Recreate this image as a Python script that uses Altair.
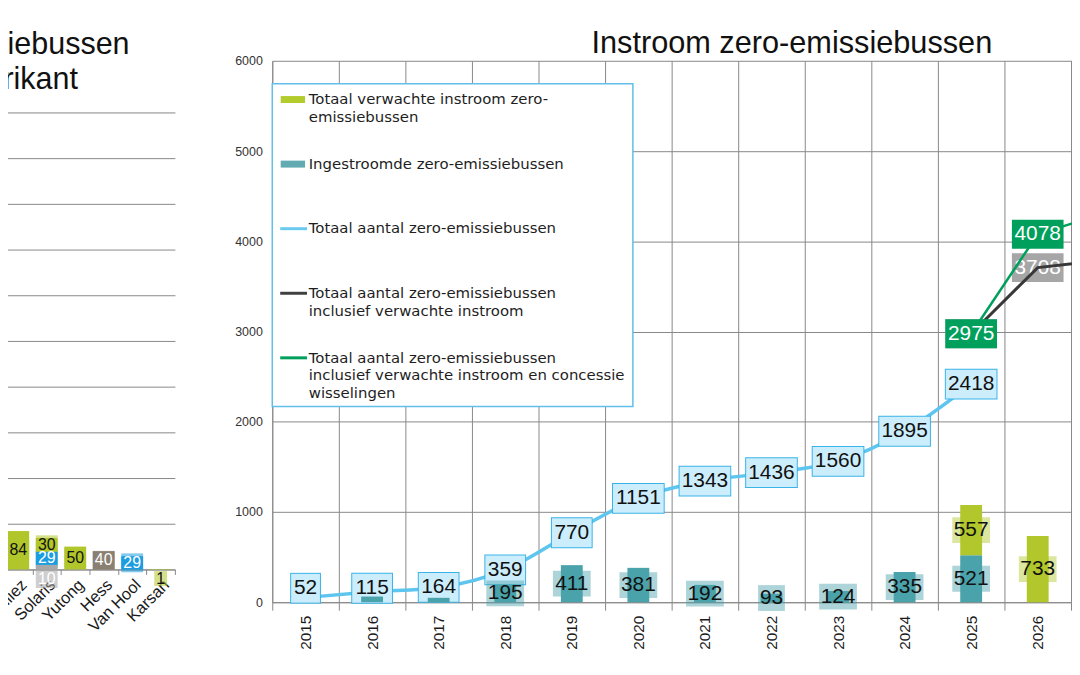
import altair as alt
import pandas as pd

# ------------------------------------------------------------------ data
# right chart: "Instroom zero-emissiebussen"
years_axis = [2015, 2016, 2017, 2018, 2019, 2020, 2021, 2022, 2023, 2024, 2025, 2026, 2027]
years_labelled = [2015, 2016, 2017, 2018, 2019, 2020, 2021, 2022, 2023, 2024, 2025, 2026]
total_years = [2015, 2016, 2017, 2018, 2019, 2020, 2021, 2022, 2023, 2024, 2025]
total_zeb = [52, 115, 164, 359, 770, 1151, 1343, 1436, 1560, 1895, 2418]
inflow_years = [2016, 2017, 2018, 2019, 2020, 2021, 2022, 2023, 2024, 2025]
inflow_zeb = [63, 49, 195, 411, 381, 192, 93, 124, 335, 521]
expected_years = [2025, 2026]
expected_inflow = [557, 733]
proj_years = [2025, 2026, 2027]
proj_incl_inflow = [2975, 3708, 3790]
proj_incl_concession = [2975, 4078, 4310]
right_y_ticks = [0, 1000, 2000, 3000, 4000, 5000, 6000]
first_labelled_inflow_year = 2018

# left chart (cropped): zero-emissiebussen per fabrikant
mfr_order = ["BYD", "Heuliez", "Solaris", "Yutong", "Hess", "Van Hool", "Karsan"]
seg_mfr = ["BYD", "Heuliez", "Solaris", "Solaris", "Solaris", "Yutong", "Hess", "Van Hool", "Karsan"]
seg_kind = ["batterij", "batterij", "overig", "waterstof", "batterij", "batterij", "trolley", "waterstof", "batterij"]
seg_value = [131, 84, 10, 29, 30, 50, 40, 29, 1]
left_y_ticks = [0, 100, 200, 300, 400, 500, 600, 700, 800, 900, 1000]

legend_texts = [
    ["Totaal verwachte instroom zero-", "emissiebussen"],
    ["Ingestroomde zero-emissiebussen"],
    ["Totaal aantal zero-emissiebussen"],
    ["Totaal aantal zero-emissiebussen", "inclusief verwachte instroom"],
    ["Totaal aantal zero-emissiebussen", "inclusief verwachte instroom en  concessie", "wisselingen"],
]
legend_kinds = ["bar", "bar", "line", "line", "line"]

# ------------------------------------------------------------------ style
TEAL = "#4aa2aa"
GREEN = "#b2c72b"
BLUE = "#5ec5ef"
BLUE_FILL = "#ccedfc"
BLUE_EDGE = "#3ab3e8"
DARK = "#383838"
EMERALD = "#00a05c"
GREY_BOX = "#a6a6a6"
GRID = "#888888"
LEG_EDGE = "#62bfe9"
NUMFONT = "Liberation Sans"
TXTFONT = "Liberation Sans"
LEGFONT = "DejaVu Sans"

legend_colors = ["#b4cb2c", "#63abb2", "#6ccaf0", "#404040", EMERALD]
kind_color = {"batterij": "#b0c62a", "waterstof": "#1b9ddf", "trolley": "#8a8072", "overig": "#a8a8a8"}
kind_text = {"batterij": "#111111", "waterstof": "#ffffff", "trolley": "#ffffff", "overig": "#ffffff"}


def digits(v):
    return len(str(int(round(v))))


one = pd.DataFrame({"k": [0]})

# ------------------------------------------------------------------ right chart scales / axes
XS = alt.Scale(type="band", domain=years_axis, range=[0, 871], paddingInner=0, paddingOuter=0)
YS = alt.Scale(domain=[0, 6000], nice=False, zero=True)
AX = alt.Axis(orient="bottom", title=None, values=years_labelled, grid=True, gridColor=GRID, gridWidth=1,
              tickBand="extent", domainColor=GRID, tickColor=GRID, tickSize=8,
              labelAngle=270, labelAlign="right", labelBaseline="middle",
              labelFont=TXTFONT, labelFontSize=15.5, labelColor="#1a1a1a",
              labelPadding=5, labelOverlap=False)
AY = alt.Axis(orient="left", title=None, values=right_y_ticks, format="d", grid=True,
              gridColor=GRID, gridWidth=1, domainColor=GRID, ticks=False, tickSize=0,
              labelFont=TXTFONT, labelFontSize=12.5, labelColor="#333333", labelPadding=10)


def rx():
    return alt.X("year:O", scale=XS, axis=AX)


def ry(field, stack=False):
    return alt.Y(f"{field}:Q", scale=YS, axis=AY, stack=stack)


# bars (ingestroomd + verwacht), stacked
bar_rows = []
base = {}
for yr, v in zip(inflow_years, inflow_zeb):
    b = base.get(yr, 0)
    bar_rows.append(dict(year=yr, value=v, ord=0, color=TEAL, mid=b + v / 2, nd=digits(v)))
    base[yr] = b + v
for yr, v in zip(expected_years, expected_inflow):
    b = base.get(yr, 0)
    bar_rows.append(dict(year=yr, value=v, ord=1, color=GREEN, mid=b + v / 2, nd=digits(v)))
    base[yr] = b + v
bars_df = pd.DataFrame(bar_rows)
bar_lab_df = bars_df[(bars_df["ord"] == 1) | (bars_df["year"] >= first_labelled_inflow_year)]

total_df = pd.DataFrame({"year": total_years, "value": total_zeb})
total_df["lab_y"] = total_df["value"].clip(lower=155)
total_df["nd"] = total_df["value"].map(digits)

incl_df = pd.DataFrame({"year": proj_years, "value": proj_incl_inflow})
conc_df = pd.DataFrame({"year": proj_years, "value": proj_incl_concession})


def tick_boxes(df, yfield, widths, thickness, color=None, color_field=None, opacity=1.0):
    out = []
    for nd, w in widths.items():
        sub = df[df["nd"] == nd]
        if len(sub) == 0:
            continue
        kw = dict(orient="horizontal", size=w, thickness=thickness, opacity=opacity)
        if color is not None:
            kw["color"] = color
        enc = dict(x=rx(), y=ry(yfield))
        if color_field is not None:
            enc["color"] = alt.Color(f"{color_field}:N", scale=None)
        out.append(alt.Chart(sub).mark_tick(**kw).encode(**enc))
    return out


right_layers = []
# blue line + its label boxes
right_layers.append(alt.Chart(total_df).mark_line(color=BLUE, strokeWidth=3.5, interpolate="monotone",
                                                  strokeCap="round").encode(x=rx(), y=ry("value")))
right_layers += tick_boxes(total_df, "lab_y", {2: 31, 3: 42, 4: 53}, 31, color=BLUE_EDGE)
right_layers += tick_boxes(total_df, "lab_y", {2: 29, 3: 40, 4: 51}, 29, color=BLUE_FILL)
# bar label boxes (behind bars)
right_layers += tick_boxes(bar_lab_df, "mid", {2: 27, 3: 38}, 26, color_field="color", opacity=0.45)
# bars
right_layers.append(alt.Chart(bars_df).mark_bar(size=22).encode(
    x=rx(), y=ry("value", stack="zero"),
    color=alt.Color("color:N", scale=None), order=alt.Order("ord:Q")))
# bar labels
right_layers.append(alt.Chart(bar_lab_df).mark_text(font=NUMFONT, fontSize=21, baseline="middle",
                                                    color="#111111").encode(
    x=rx(), y=ry("mid"), text=alt.Text("value:Q", format="d")))
# blue labels
right_layers.append(alt.Chart(total_df).mark_text(font=NUMFONT, fontSize=21, baseline="middle",
                                                  color="#111111").encode(
    x=rx(), y=ry("lab_y"), text=alt.Text("value:Q", format="d")))
# grey labels (incl. verwachte instroom)
right_layers.append(alt.Chart(incl_df).mark_tick(orient="horizontal", size=52, thickness=29,
                                                 color=GREY_BOX, opacity=1).encode(x=rx(), y=ry("value")))
right_layers.append(alt.Chart(incl_df).mark_text(font=NUMFONT, fontSize=21, baseline="middle",
                                                 color="#ffffff").encode(
    x=rx(), y=ry("value"), text=alt.Text("value:Q", format="d")))
# projection lines
right_layers.append(alt.Chart(incl_df).mark_line(color=DARK, strokeWidth=3).encode(x=rx(), y=ry("value")))
right_layers.append(alt.Chart(conc_df).mark_line(color=EMERALD, strokeWidth=2.5).encode(x=rx(), y=ry("value")))
right_layers.append(alt.Chart(conc_df).mark_tick(orient="horizontal", size=52, thickness=29,
                                                 color=EMERALD, opacity=1).encode(x=rx(), y=ry("value")))
right_layers.append(alt.Chart(conc_df).mark_text(font=NUMFONT, fontSize=21, baseline="middle",
                                                 color="#ffffff").encode(
    x=rx(), y=ry("value"), text=alt.Text("value:Q", format="d")))

# legend (drawn inside the plot, top-left)
right_layers.append(alt.Chart(one).mark_rect(fill="white", stroke=LEG_EDGE, strokeWidth=1.5).encode(
    x=alt.value(0), x2=alt.value(363), y=alt.value(23), y2=alt.value(348)))
for i, (lines, kind, col) in enumerate(zip(legend_texts, legend_kinds, legend_colors)):
    yc = 39 + 65 * i
    if kind == "bar":
        right_layers.append(alt.Chart(one).mark_rect(color=col).encode(
            x=alt.value(8.5), x2=alt.value(33), y=alt.value(yc - 3.5), y2=alt.value(yc + 3.5)))
    else:
        right_layers.append(alt.Chart(one).mark_rule(color=col, strokeWidth=3).encode(
            x=alt.value(8), x2=alt.value(35), y=alt.value(yc)))
    right_layers.append(alt.Chart(one).mark_text(text=lines, font=LEGFONT, fontSize=15, align="left",
                                                 baseline="alphabetic", lineHeight=17.7,
                                                 color="#1e1e1e").encode(
        x=alt.value(36.7), y=alt.value(yc + 4.7)))

# right title
right_layers.append(alt.Chart(one).mark_text(text="Instroom zero-emissiebussen", font=TXTFONT, fontSize=30.9,
                                             align="center", baseline="alphabetic", color="#111111").encode(
    x=alt.value(523), y=alt.value(-8.3)))

right = alt.layer(*right_layers)

# ------------------------------------------------------------------ left chart
LXS = alt.Scale(type="band", domain=mfr_order, range=[-298.7, -98], paddingInner=0, paddingOuter=0)
LYS = alt.Scale(domain=[0, 1000], range=[512, 52], nice=False, zero=True)
LAX = alt.Axis(orient="bottom", offset=-33, title=None, grid=False, tickBand="extent",
               domainColor=GRID, tickColor=GRID, tickSize=5, labelAngle=315, labelAlign="right",
               labelBaseline="top", labelFont=TXTFONT, labelFontSize=16.5, labelColor="#1a1a1a",
               labelPadding=2, labelOverlap=False)
LAY = alt.Axis(orient="left", title=None, values=left_y_ticks, labels=False, ticks=False,
               domain=False, grid=True, gridColor=GRID, gridWidth=1)

left_rows = []
lbase = {}
for i, (m, k, v) in enumerate(zip(seg_mfr, seg_kind, seg_value)):
    b = lbase.get(m, 0)
    lab = b + v / 2 if v >= 15 else -20
    left_rows.append(dict(mfr=m, kind=k, value=v, ord=i, color=kind_color[k], tcolor=kind_text[k],
                          lab_y=lab, nd=digits(v)))
    lbase[m] = b + v
left_df = pd.DataFrame(left_rows)


def lx():
    return alt.X("mfr:N", scale=LXS, axis=LAX)


def ly(field, stack=False):
    return alt.Y(f"{field}:Q", scale=LYS, axis=LAY, stack=stack)


left_layers = []
for nd, (w, h) in {1: (13, 15), 2: (22, 19), 3: (28, 19)}.items():
    sub = left_df[left_df["nd"] == nd]
    if len(sub):
        left_layers.append(alt.Chart(sub).mark_tick(orient="horizontal", size=w, thickness=h, opacity=0.55).encode(
            x=lx(), y=ly("lab_y"), color=alt.Color("color:N", scale=None)))
left_layers.append(alt.Chart(left_df).mark_bar(size=22).encode(
    x=lx(), y=ly("value", stack="zero"), color=alt.Color("color:N", scale=None), order=alt.Order("ord:Q")))
left_layers.append(alt.Chart(left_df).mark_text(font=NUMFONT, fontSize=16, baseline="middle").encode(
    x=lx(), y=ly("lab_y"), text=alt.Text("value:Q", format="d"), color=alt.Color("tcolor:N", scale=None)))
left_layers.append(alt.Chart(one).mark_text(text=["Instroom zero-emissiebussen", "verdeeld per fabrikant"],
                                            font=TXTFONT, fontSize=30.7, align="center", baseline="alphabetic",
                                            lineHeight=35, color="#111111").encode(
    x=alt.value(-344), y=alt.value(-7)))

left = alt.layer(*left_layers)

chart = (
    alt.layer(left, right)
    .resolve_scale(x="independent", y="independent")
    .properties(width=804, height=545,
                padding={"left": 266, "top": 51, "right": 1, "bottom": 55},
                autosize=alt.AutoSizeParams(type="none"))
    .configure(font=TXTFONT, background="white")
    .configure_view(stroke="transparent")
)

chart.save("out.html", embed_options={"renderer": "svg", "actions": False})
